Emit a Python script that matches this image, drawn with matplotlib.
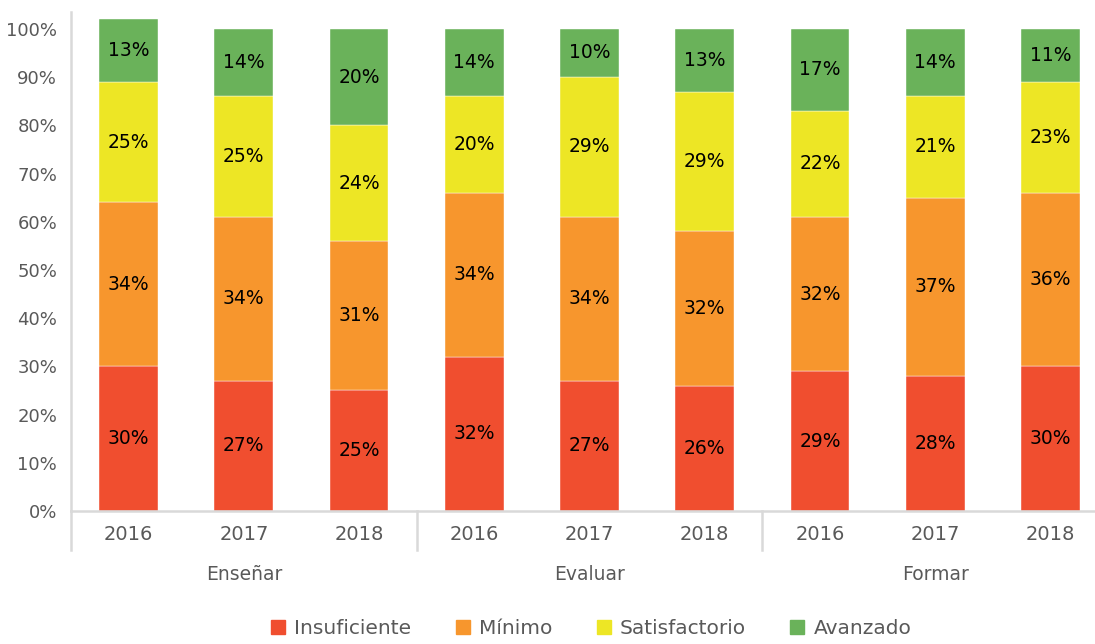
import matplotlib.pyplot as plt
from matplotlib.patches import Patch

groups = ["Enseñar", "Evaluar", "Formar"]
years = ["2016", "2017", "2018"]
levels = ["Insuficiente", "Mínimo", "Satisfactorio", "Avanzado"]
colors = ["#F04E2F", "#F7962D", "#EDE625", "#6AB25A"]

# percent per bar (Enseñar 16-18, Evaluar 16-18, Formar 16-18)
insuficiente = [30, 27, 25, 32, 27, 26, 29, 28, 30]
minimo = [34, 34, 31, 34, 34, 32, 32, 37, 36]
satisfactorio = [25, 25, 24, 20, 29, 29, 22, 21, 23]
avanzado = [13, 14, 20, 14, 10, 13, 17, 14, 11]
series = [insuficiente, minimo, satisfactorio, avanzado]

grey = "#595959"
axcol = "#D9D9D9"

fig = plt.figure(figsize=(10.95, 6.44), dpi=100)
ax = fig.add_axes([71 / 1095, 1 - 511 / 644, 1037 / 1095, 499 / 644])

x = list(range(len(insuficiente)))
bottom = [0] * len(x)
for vals, col, name in zip(series, colors, levels):
    ax.bar(x, [v / 100 for v in vals], bottom=[b / 100 for b in bottom],
           width=0.51, color=col, label=name, edgecolor="white", linewidth=0.3)
    for xi, v, b in zip(x, vals, bottom):
        ax.text(xi, (b + v / 2) / 100, f"{v}%", ha="center", va="center",
                fontsize=13.5, color="black")
    bottom = [b + v for b, v in zip(bottom, vals)]

ax.set_xlim(-0.5, 8.5)
ax.set_ylim(0, 1.035)
ax.set_yticks([i / 10 for i in range(11)])
ax.set_yticklabels([f"{i * 10}%" for i in range(11)], fontsize=13, color=grey)
ax.tick_params(axis="y", length=0, pad=10)
ax.set_xticks(x)
ax.set_xticklabels(years * 3, fontsize=14, color=grey)
ax.tick_params(axis="x", length=0, pad=10)

for s in ["top", "right"]:
    ax.spines[s].set_visible(False)
for s in ["left", "bottom"]:
    ax.spines[s].set_color(axcol)
    ax.spines[s].set_linewidth(1.8)

trans = ax.get_xaxis_transform()
for sep in [-0.5, 2.5, 5.5]:
    ax.plot([sep, sep], [0, -0.078], transform=trans, color=axcol, lw=1.8, clip_on=False)
for i, g in enumerate(groups):
    ax.text(3 * i + 1, -0.127, g, transform=trans, ha="center", va="center",
            fontsize=13.5, color=grey)

handles = [Patch(color=c, label=l) for c, l in zip(colors, levels)]
fig.legend(handles=handles, loc="center", bbox_to_anchor=(0.54, 0.024), ncol=4,
           frameon=False, fontsize=14.5, handlelength=0.7, handleheight=0.7,
           handletextpad=0.45, columnspacing=2.2, labelcolor=grey)

fig.savefig("out.png", dpi=100)
